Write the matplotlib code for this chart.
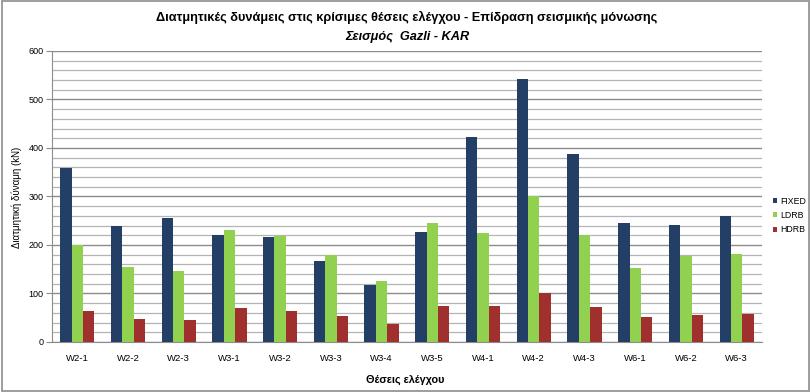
import numpy as np
import matplotlib.pyplot as plt
from matplotlib.patches import Rectangle

# Data
positions = ["W2-1", "W2-2", "W2-3", "W3-1", "W3-2", "W3-3", "W3-4",
             "W3-5", "W4-1", "W4-2", "W4-3", "W6-1", "W6-2", "W6-3"]
fixed = [359, 239, 256, 221, 217, 167, 118, 227, 423, 542, 388, 245, 241, 260]
ldrb = [200, 155, 146, 231, 219, 179, 126, 245, 225, 301, 221, 153, 178, 181]
hdrb = [64, 48, 45, 71, 64, 54, 38, 74, 74, 100, 72, 52, 56, 58]

plt.rcParams['font.family'] = ['Liberation Sans', 'DejaVu Sans']

fig = plt.figure(figsize=(8.11, 3.92), dpi=100)
ax = fig.add_axes([0.064, 0.1276, 0.8756, 0.7424])

x = np.arange(len(positions))
w = 0.225
ax.bar(x - w, fixed, w, color='#243f66', label='FIXED', zorder=3)
ax.bar(x, ldrb, w, color='#92d050', label='LDRB', zorder=3)
ax.bar(x + w, hdrb, w, color='#a0302e', label='HDRB', zorder=3)

ax.set_xlim(-0.5, len(positions) - 0.5)
ax.set_ylim(0, 600)
ax.set_yticks(range(0, 601, 100))
ax.set_yticks(range(0, 601, 20), minor=True)
ax.yaxis.grid(True, which='major', color='#8c8c8c', linewidth=1.0, zorder=0)
ax.yaxis.grid(True, which='minor', color='#b4b4b4', linewidth=0.9, zorder=0)
ax.tick_params(axis='y', which='major', labelsize=6.5, length=4, color='#8c8c8c', pad=2)
ax.tick_params(axis='y', which='minor', length=0)
ax.set_xticks(x)
ax.set_xticklabels(positions)
ax.tick_params(axis='x', length=0, labelsize=6.8, pad=9)

for s in ['top', 'right']:
    ax.spines[s].set_visible(False)
for s in ['left', 'bottom']:
    ax.spines[s].set_color('#8c8c8c')

fig.text(0.021, 0.4975, 'Διατμητική δύναμη (kN)', rotation=90, ha='center', va='center',
         fontsize=7)
fig.text(0.5, 0.03, 'Θέσεις ελέγχου', ha='center', va='center', fontsize=7.8,
         fontweight='bold')

fig.text(0.502, 0.955, 'Διατμητικές δυνάμεις στις κρίσιμες θέσεις ελέγχου - Επίδραση σεισμικής μόνωσης',
         ha='center', va='center', fontsize=9.2, fontweight='bold')
fig.text(0.502, 0.905, 'Σεισμός  Gazli - KAR', ha='center', va='center',
         fontsize=9.2, style='italic', fontweight='bold')

ax.legend(loc='center left', bbox_to_anchor=(1.007, 0.435), frameon=False,
          fontsize=6.3, handlelength=0.5, handleheight=0.5, handletextpad=0.3,
          labelspacing=0.6, borderaxespad=0.3)

fig.patches.append(Rectangle((0.002, 0.003), 0.996, 0.994, transform=fig.transFigure,
                             fill=False, edgecolor='#8c8c8c', linewidth=1.2))

fig.savefig('out.png', dpi=100)
